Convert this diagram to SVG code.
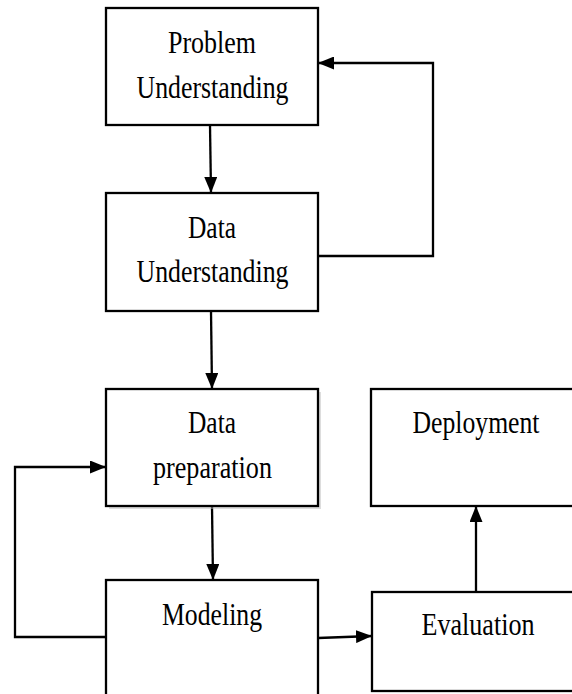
<svg xmlns="http://www.w3.org/2000/svg" width="572" height="694" viewBox="0 0 572 694">
<style>
.box{fill:#fff;stroke:#000;stroke-width:2.3}
.shadow{fill:#bbb;opacity:0.5}
.t{font-family:"Liberation Serif","Times New Roman",serif;font-size:32px;fill:#000;text-anchor:middle}
.c{fill:none;stroke:#000;stroke-width:2.3}
</style>
<defs>
<marker id="ah" markerWidth="16" markerHeight="13" refX="16" refY="6.5" orient="auto" markerUnits="userSpaceOnUse">
<path d="M0,0 L16,6.5 L0,13 Z" fill="#000"/>
</marker>
</defs>
<rect width="572" height="694" fill="#fff"/>
<g id="connectors">
<line class="c" x1="210" y1="125" x2="211" y2="193" marker-end="url(#ah)"/>
<polyline class="c" points="318,256 433,256 433,63 318,63" marker-end="url(#ah)"/>
<line class="c" x1="211" y1="311" x2="212" y2="389" marker-end="url(#ah)"/>
<line class="c" x1="212" y1="506" x2="213" y2="580" marker-end="url(#ah)"/>
<polyline class="c" points="106,637 15,637 15,467 106,467" marker-end="url(#ah)"/>
<line class="c" x1="318" y1="638" x2="372" y2="636" marker-end="url(#ah)"/>
<line class="c" x1="476" y1="592" x2="476" y2="506" marker-end="url(#ah)"/>
</g>
<g id="problem-understanding">
<rect class="box" x="106" y="8" width="212" height="117"/>
<text class="t" x="212" y="53" textLength="88" lengthAdjust="spacingAndGlyphs">Problem</text>
<text class="t" x="212.5" y="98" textLength="152" lengthAdjust="spacingAndGlyphs">Understanding</text>
</g>
<g id="data-understanding">
<rect class="box" x="106" y="193" width="212" height="118"/>
<text class="t" x="212" y="238" textLength="48" lengthAdjust="spacingAndGlyphs">Data</text>
<text class="t" x="212.5" y="282" textLength="152" lengthAdjust="spacingAndGlyphs">Understanding</text>
</g>
<g id="data-preparation">
<rect class="shadow" x="109" y="392" width="212" height="117"/>
<rect class="box" x="106" y="389" width="212" height="117"/>
<text class="t" x="212" y="433" textLength="48" lengthAdjust="spacingAndGlyphs">Data</text>
<text class="t" x="212.5" y="478" textLength="119" lengthAdjust="spacingAndGlyphs">preparation</text>
</g>
<g id="deployment">
<rect class="box" x="371" y="389" width="204" height="117"/>
<text class="t" x="476" y="433" textLength="127" lengthAdjust="spacingAndGlyphs">Deployment</text>
</g>
<g id="modeling">
<rect class="box" x="106" y="580" width="212" height="116"/>
<text class="t" x="212" y="625" textLength="100" lengthAdjust="spacingAndGlyphs">Modeling</text>
</g>
<g id="evaluation">
<rect class="box" x="372" y="592" width="203" height="99"/>
<text class="t" x="478" y="635" textLength="113" lengthAdjust="spacingAndGlyphs">Evaluation</text>
</g>
</svg>
